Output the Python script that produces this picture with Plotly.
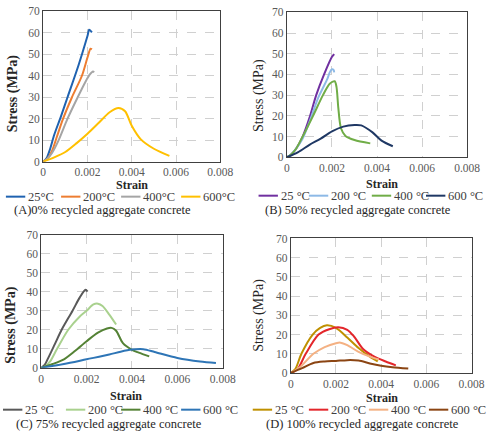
import plotly.graph_objects as go

# ---------------- data ----------------
temps_A = ["25°C", "200°C", "400°C", "600°C"]
temps_BCD = ["25 °C", "200 °C", "400 °C", "600 °C"]

A25_x = [0, 0.00015, 0.0003, 0.0005, 0.0008, 0.0011, 0.0016, 0.002, 0.00208, 0.0022]
A25_y = [0, 1.5, 5.5, 12.5, 21, 30, 45, 58.5, 61.4, 60.2]
A200_x = [0, 0.0002, 0.0004, 0.0006, 0.0009, 0.0013, 0.00175, 0.002, 0.00214, 0.0022]
A200_y = [0, 1.5, 5, 11, 20, 30, 40, 48.5, 52.6, 52.3]
A400_x = [0, 0.0002, 0.0004, 0.0007, 0.0011, 0.00156, 0.0019, 0.0021, 0.00225, 0.0023]
A400_y = [0, 1.5, 4, 10, 20, 30, 37, 40.5, 42, 41.6]
A600_x = [0, 0.0005, 0.001, 0.0015, 0.002, 0.0025, 0.003, 0.0034, 0.0037, 0.004, 0.0044, 0.005, 0.0057]
A600_y = [0, 2, 4.5, 8.5, 13, 18, 23, 25, 23.5, 16.7, 10.5, 6, 2.7]

B25_x = [0, 0.0002, 0.0004, 0.0007, 0.001, 0.0013, 0.00165, 0.002, 0.0021]
B25_y = [0, 1.5, 4, 10, 19, 30, 40, 48.5, 49.8]
B200_x = [0, 0.0002, 0.0004, 0.0007, 0.001, 0.0014, 0.0018, 0.0019, 0.002, 0.00207, 0.0021]
B200_y = [0, 1.5, 4, 9, 17, 29, 38, 41, 42.5, 42.2, 41]
B400_x = [0, 0.0002, 0.0004, 0.0007, 0.00116, 0.0016, 0.0019, 0.00212, 0.0022, 0.00228, 0.0024, 0.0026, 0.003, 0.0037]
B400_y = [0, 1.5, 4, 10, 20, 30, 35.5, 36.7, 34, 24, 14, 10.3, 8.3, 6.7]
B600_x = [0, 0.0005, 0.001, 0.0015, 0.002, 0.0025, 0.003, 0.0033, 0.0038, 0.0042, 0.0047]
B600_y = [0, 2.5, 6, 9, 12.5, 14.8, 15.6, 15.4, 12, 8, 5.3]

C25_x = [0, 0.00015, 0.0003, 0.0006, 0.0009, 0.00138, 0.0017, 0.00195, 0.00204]
C25_y = [0, 1.5, 5, 12.5, 20, 30, 37, 41, 40]
C200_x = [0, 0.0002, 0.0004, 0.0007, 0.00119, 0.0017, 0.002, 0.0023, 0.0025, 0.0027, 0.003, 0.0033]
C200_y = [0, 1, 3.5, 10, 20, 27, 30, 33.3, 33.7, 32.5, 28, 22.8]
C400_x = [0, 0.0005, 0.001, 0.0015, 0.002, 0.0025, 0.0029, 0.0031, 0.0033, 0.0036, 0.004, 0.0043, 0.00476]
C400_y = [0, 2, 4.5, 9, 14, 18.5, 20.7, 21, 19.5, 13, 9.5, 8, 6]
C600_x = [0, 0.001, 0.002, 0.003, 0.0035, 0.004, 0.0045, 0.005, 0.006, 0.007, 0.0077]
C600_y = [0, 2, 4.5, 7, 8.5, 9.6, 9.8, 8.3, 5.2, 3.3, 2.5]

D25_x = [0, 0.0002, 0.00047, 0.00097, 0.0013, 0.0016, 0.002, 0.0025, 0.003, 0.0035, 0.00385]
D25_y = [0, 2, 10, 20, 23.5, 24.8, 23.5, 18.5, 13, 8.5, 6]
D200_x = [0, 0.0003, 0.00066, 0.00123, 0.0017, 0.0021, 0.0025, 0.0028, 0.0032, 0.0037, 0.0042, 0.00465]
D200_y = [0, 2, 10, 20, 22.8, 23.8, 22.5, 19, 12.5, 8.5, 6, 4]
D400_x = [0, 0.0004, 0.001, 0.0015, 0.002, 0.0022, 0.0025, 0.003, 0.0035, 0.0039]
D400_y = [0, 3, 10, 13.5, 15.5, 15.8, 14.5, 11, 8.5, 7]
D600_x = [0, 0.0005, 0.001, 0.0015, 0.002, 0.0025, 0.003, 0.0035, 0.004, 0.0045, 0.0052]
D600_y = [0, 2.5, 5.2, 6, 6.3, 6.7, 6.5, 5, 3.8, 3, 2.3]

x_ticks = [0, 0.002, 0.004, 0.006, 0.008]
x_tick_labels = ["0", "0.002", "0.004", "0.006", "0.008"]
y_ticks = [0, 10, 20, 30, 40, 50, 60, 70]

captions = ["(A)0% recycled aggregate concrete", "(B) 50% recycled aggregate concrete",
            "(C) 75% recycled aggregate concrete", "(D) 100% recycled aggregate concrete"]

# ---------------- layout helpers ----------------
W, H = 500, 440
def px(x):
    return x / W
def py(y):
    return 1 - y / H

panels = [
    dict(series=[(A25_x, A25_y), (A200_x, A200_y), (A400_x, A400_y), (A600_x, A600_y)],
         labels=temps_A, colors=["#1F62B0", "#ED7D31", "#A5A5A5", "#FFC000"],
         box=(41.5, 224.5, 5.5, 160), bold_y=True,
         ytitle=(10, 90), xtitle=(133, 184), leg_y=196, leg_x=[3, 60, 122, 184],
         cap=(103, 210)),
    dict(series=[(B25_x, B25_y), (B200_x, B200_y), (B400_x, B400_y), (B600_x, B600_y)],
         labels=temps_BCD, colors=["#7030A0", "#8DB9E6", "#70AD47", "#1F3864"],
         box=(293.3, 479.5, 6.5, 155.5), bold_y=False,
         ytitle=(265, 92), xtitle=(392, 183), leg_y=195, leg_x=[264, 316, 381, 437],
         cap=(367, 210)),
    dict(series=[(C25_x, C25_y), (C200_x, C200_y), (C400_x, C400_y), (C600_x, C600_y)],
         labels=temps_BCD, colors=["#595959", "#A9D18E", "#548235", "#2E75B6"],
         box=(39.5, 227, 235, 372), bold_y=True,
         ytitle=(8, 328), xtitle=(127, 401), leg_y=415, leg_x=[0, 65, 122, 184],
         cap=(110, 430)),
    dict(series=[(D25_x, D25_y), (D200_x, D200_y), (D400_x, D400_y), (D600_x, D600_y)],
         labels=temps_BCD, colors=["#BF9000", "#E3262B", "#F4B183", "#8B4513"],
         box=(297.3, 484, 239, 377.3), bold_y=False,
         ytitle=(265, 318), xtitle=(392, 403), leg_y=415, leg_x=[258, 316, 378, 440],
         cap=(371, 430)),
]

fig = go.Figure()
annotations = []
shapes = []
serif = "Liberation Serif"
tick_color = "#595959"

for i, p in enumerate(panels):
    n = i + 1
    xa = "x" if n == 1 else f"x{n}"
    ya = "y" if n == 1 else f"y{n}"
    for (xs, ys), lab, col in zip(p["series"], p["labels"], p["colors"]):
        fig.add_trace(go.Scatter(x=xs, y=ys, mode="lines", name=lab, showlegend=False,
                                 line=dict(color=col, width=2, shape="spline", smoothing=0.8),
                                 xaxis=xa, yaxis=ya))
    x0, x1, y0, y1 = p["box"]
    axis_common = dict(showline=True, mirror=True, linecolor="#404040", linewidth=1,
                       showgrid=True, gridcolor="#D0D0D0", griddash="dash", gridwidth=1,
                       zeroline=False, ticks="",
                       tickfont=dict(family=serif, size=11.5, color=tick_color))
    fig.update_layout(**{
        ("xaxis" if n == 1 else f"xaxis{n}"): dict(
            domain=[px(x0), px(x1)], range=[0, 0.008], tickvals=x_ticks, ticktext=x_tick_labels,
            anchor=ya, **axis_common),
        ("yaxis" if n == 1 else f"yaxis{n}"): dict(
            domain=[py(y1), py(y0)], range=[0, 70], tickvals=y_ticks,
            anchor=xa, **axis_common),
    })
    ytxt = "<b>Stress (MPa)</b>" if p["bold_y"] else "Stress (MPa)"
    annotations.append(dict(text=ytxt, x=px(p["ytitle"][0]), y=py(p["ytitle"][1]),
                            xref="paper", yref="paper", showarrow=False, textangle=-90,
                            xanchor="center", yanchor="middle",
                            font=dict(family=serif, size=14, color="#262626")))
    annotations.append(dict(text="<b>Strain</b>", x=px(p["xtitle"][0]), y=py(p["xtitle"][1]),
                            xref="paper", yref="paper", showarrow=False,
                            xanchor="center", yanchor="middle",
                            font=dict(family=serif, size=12, color="#262626")))
    for lx, lab, col in zip(p["leg_x"], p["labels"], p["colors"]):
        shapes.append(dict(type="line", xref="paper", yref="paper",
                           x0=px(lx), x1=px(lx + 20), y0=py(p["leg_y"]), y1=py(p["leg_y"]),
                           line=dict(color=col, width=2)))
        annotations.append(dict(text=lab, x=px(lx + 21), y=py(p["leg_y"]),
                                xref="paper", yref="paper", showarrow=False,
                                xanchor="left", yanchor="middle",
                                font=dict(family=serif, size=12.5, color="#404040")))
    annotations.append(dict(text=captions[i], x=px(p["cap"][0]), y=py(p["cap"][1]),
                            xref="paper", yref="paper", showarrow=False,
                            xanchor="center", yanchor="middle",
                            font=dict(family=serif, size=12.5, color="#262626")))

fig.update_layout(width=W, height=H, margin=dict(l=0, r=0, t=0, b=0),
                  paper_bgcolor="white", plot_bgcolor="white",
                  font=dict(family=serif),
                  showlegend=False, annotations=annotations, shapes=shapes)

fig.write_html("out.html", config={"displayModeBar": False},
               post_script="document.body.style.margin='0px';")
